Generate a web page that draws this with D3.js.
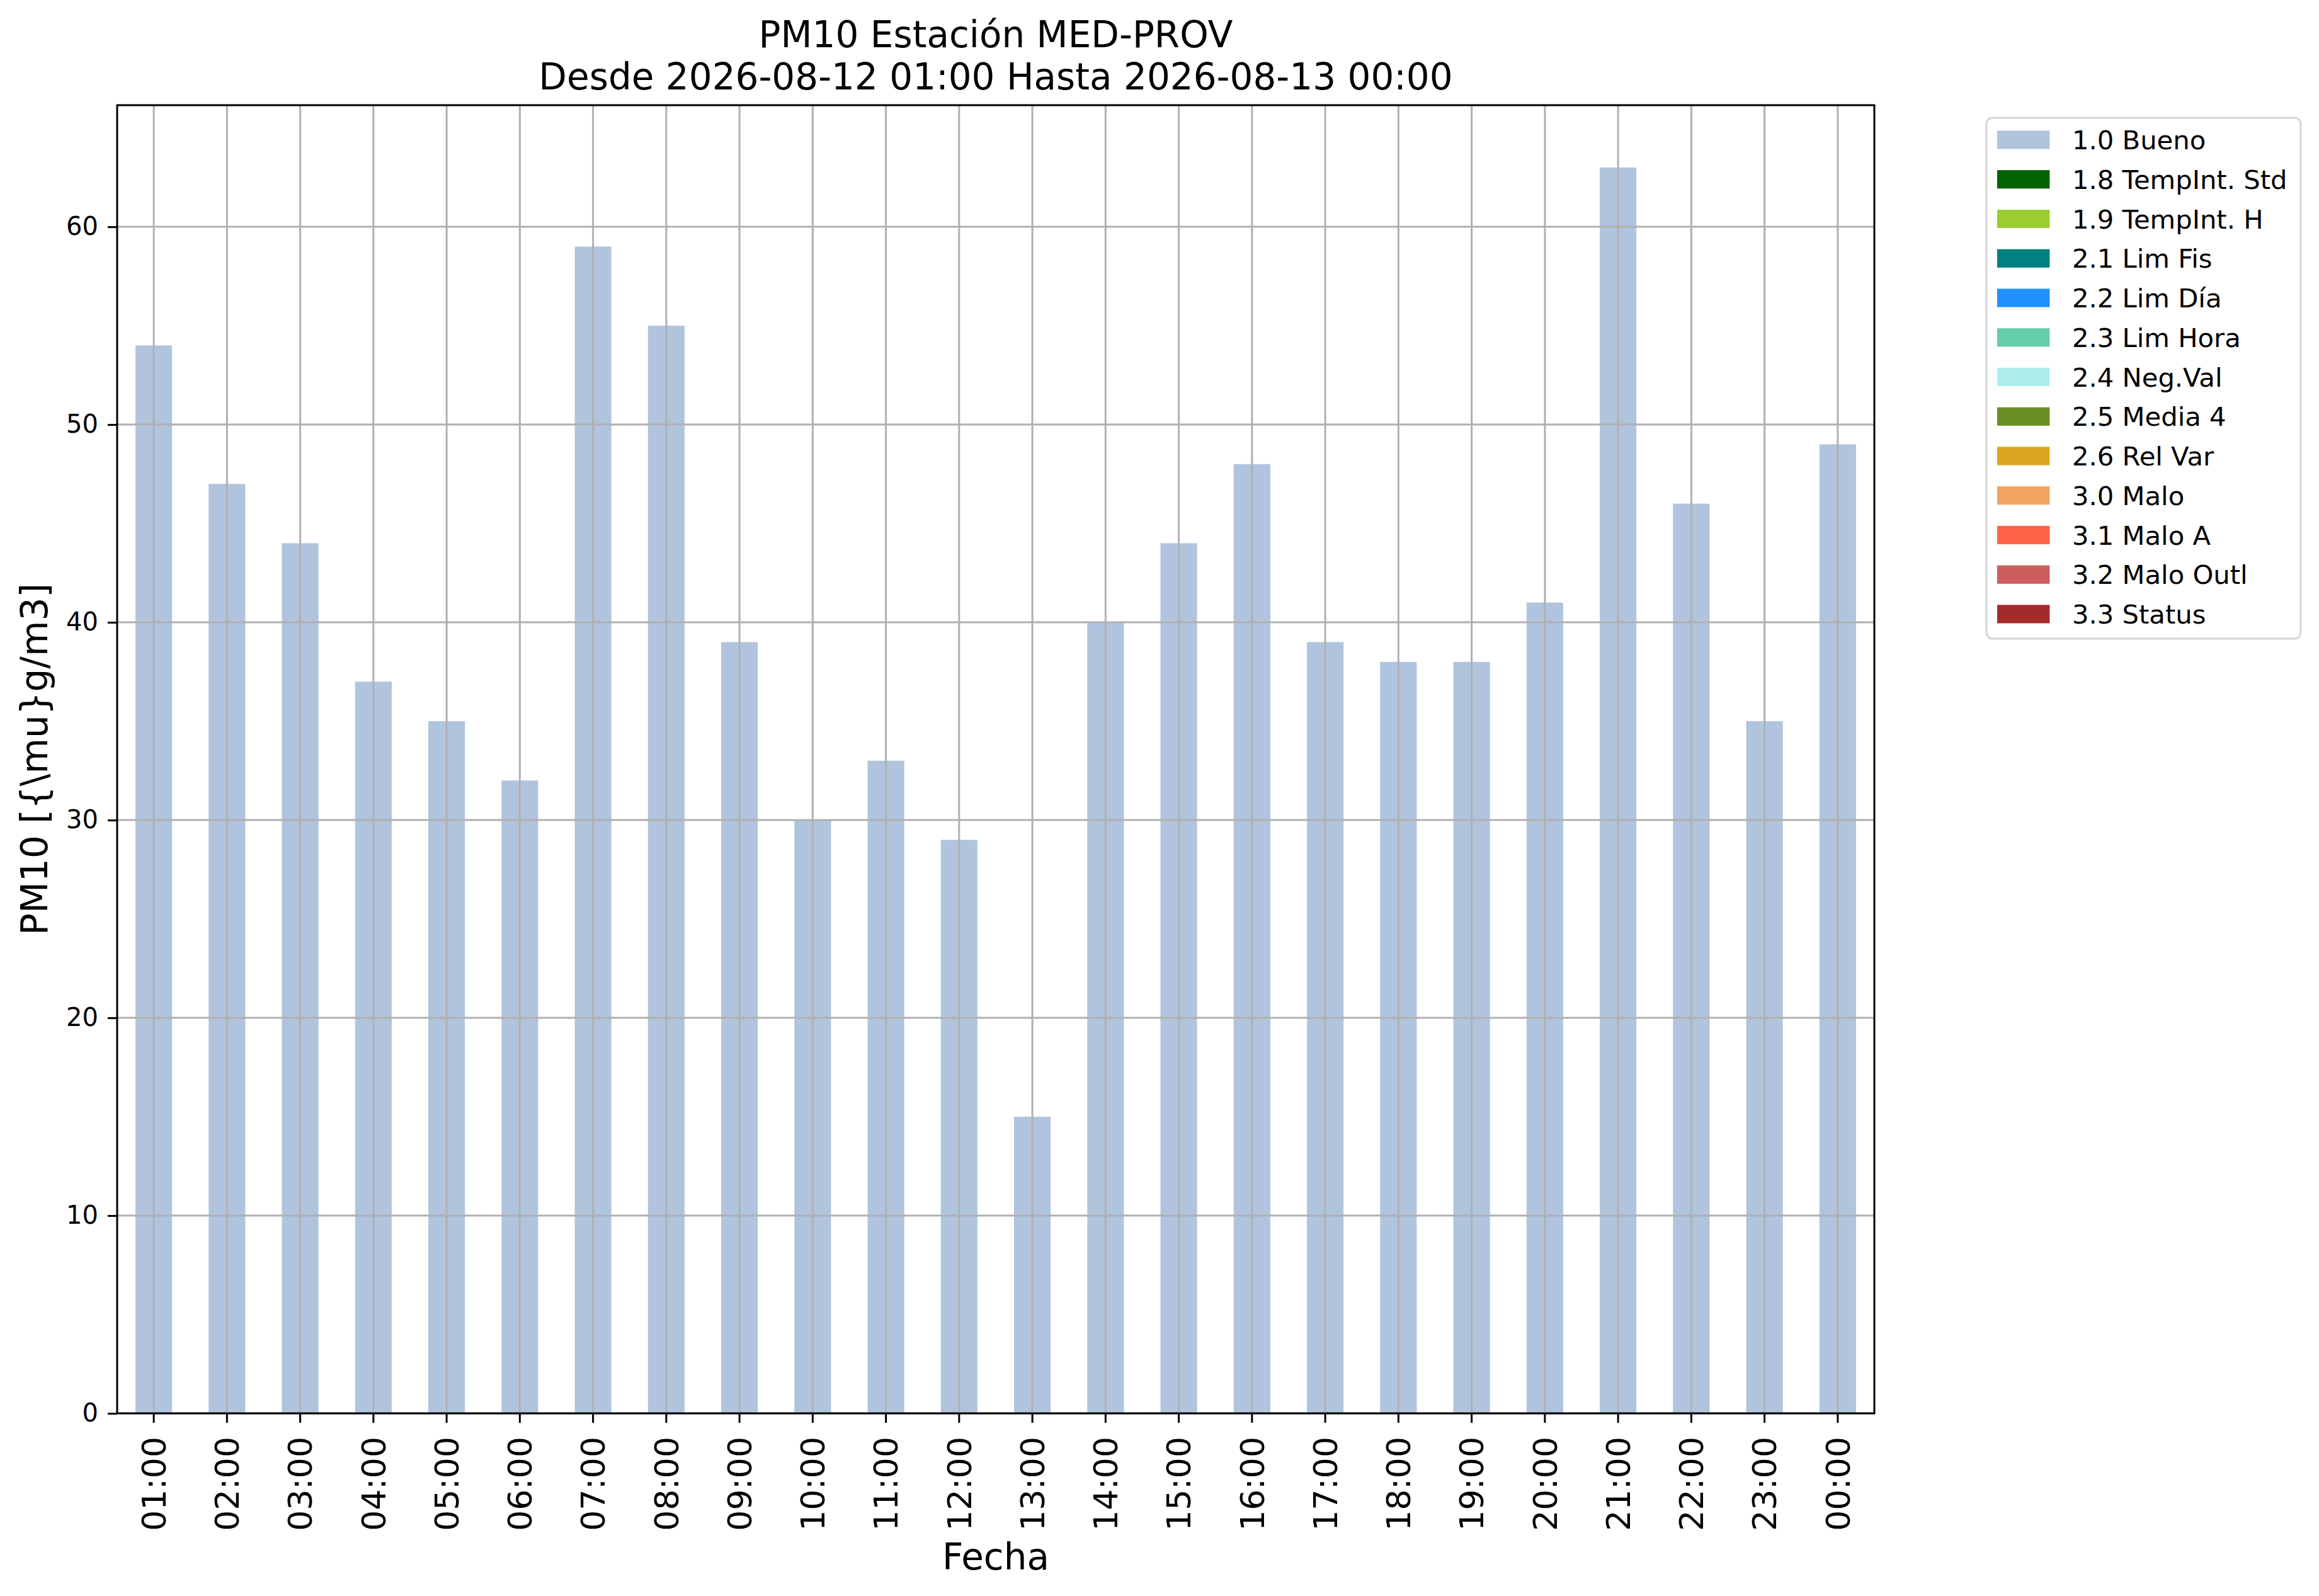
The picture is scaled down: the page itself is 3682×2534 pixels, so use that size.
<!DOCTYPE html>
<html>
<head>
<meta charset="utf-8">
<script src="https://cdn.jsdelivr.net/npm/d3@7"></script>
<style>
  body { margin: 0; background: #fff; }
  text { font-family: "DejaVu Sans", sans-serif; }
</style>
</head>
<body>
<svg id="chart" width="3682" height="2534"></svg>
<script>
// hourly labels for the x axis
const hours = ['01:00', '02:00', '03:00', '04:00', '05:00', '06:00', '07:00', '08:00',
    '09:00', '10:00', '11:00', '12:00', '13:00', '14:00', '15:00', '16:00',
    '17:00', '18:00', '19:00', '20:00', '21:00', '22:00', '23:00', '00:00'];
// PM10 values, all flagged 1.0 Bueno
const pm10Values = [54, 47, 44, 37, 35, 32, 59, 55, 39, 30, 33, 29, 15, 40,
    44, 48, 39, 38, 38, 41, 63, 46, 35, 49];
const yTicks = [0, 10, 20, 30, 40, 50, 60];
const legendLabels = ['1.0 Bueno', '1.8 TempInt. Std', '1.9 TempInt. H', '2.1 Lim Fis',
    '2.2 Lim Día', '2.3 Lim Hora', '2.4 Neg.Val', '2.5 Media 4', '2.6 Rel Var',
    '3.0 Malo', '3.1 Malo A', '3.2 Malo Outl', '3.3 Status'];
const legendColors = ['lightsteelblue', 'darkgreen', 'yellowgreen', 'teal', 'dodgerblue',
    'mediumaquamarine', 'paleturquoise', 'olivedrab', 'goldenrod', 'sandybrown',
    'tomato', 'indianred', 'brown'];
const titleLines = ['PM10 Estación MED-PROV', 'Desde 2026-08-12 01:00 Hasta 2026-08-13 00:00'];

const svg = d3.select('#chart');
const box = { left: 186, right: 2976, top: 167, bottom: 2244 };
const yMax = d3.max(pm10Values) * 1.05;

const x = d3.scaleBand()
    .domain(hours)
    .range([box.left, box.right])
    .paddingInner(0.5)
    .paddingOuter(0.25);
const y = d3.scaleLinear()
    .domain([0, yMax])
    .range([box.bottom, box.top]);

// bars
svg.append('g')
    .selectAll('rect')
    .data(pm10Values)
    .join('rect')
        .attr('x', (d, i) => x(hours[i]))
        .attr('y', d => y(d))
        .attr('width', x.bandwidth())
        .attr('height', d => y(0) - y(d))
        .attr('fill', legendColors[0]);

// grid sits above the bars, like matplotlib does
const grid = svg.append('g').attr('stroke', '#b0b0b0').attr('stroke-width', 3);
grid.selectAll('line.v').data(hours).join('line')
    .attr('class', 'v')
    .attr('x1', d => x(d) + x.bandwidth() / 2)
    .attr('x2', d => x(d) + x.bandwidth() / 2)
    .attr('y1', box.top)
    .attr('y2', box.bottom);
grid.selectAll('line.h').data(yTicks).join('line')
    .attr('class', 'h')
    .attr('x1', box.left)
    .attr('x2', box.right)
    .attr('y1', d => y(d))
    .attr('y2', d => y(d));

// axes
const yAxis = svg.append('g')
    .attr('transform', `translate(${box.left},0)`)
    .call(d3.axisLeft(y).tickValues(yTicks).tickSize(15).tickPadding(15).tickSizeOuter(0));
yAxis.select('.domain').remove();
yAxis.selectAll('.tick line').attr('stroke', '#000').attr('stroke-width', 3);
yAxis.selectAll('.tick text')
    .attr('font-size', 40)
    .attr('fill', '#000')
    .attr('font-family', 'DejaVu Sans');

const xAxis = svg.append('g')
    .attr('transform', `translate(0,${box.bottom})`)
    .call(d3.axisBottom(x).tickSize(15).tickSizeOuter(0));
xAxis.select('.domain').remove();
xAxis.selectAll('.tick line').attr('stroke', '#000').attr('stroke-width', 3);
xAxis.selectAll('.tick text')
    .attr('font-size', 52)
    .attr('fill', '#000')
    .attr('font-family', 'DejaVu Sans')
    .attr('text-anchor', 'end')
    .attr('transform', 'rotate(-90)')
    .attr('x', -37)
    .attr('y', 0)
    .attr('dy', '0.36em');

// frame
svg.append('rect')
    .attr('x', box.left)
    .attr('y', box.top)
    .attr('width', box.right - box.left)
    .attr('height', box.bottom - box.top)
    .attr('fill', 'none')
    .attr('stroke', '#000')
    .attr('stroke-width', 3);

// title and axis labels
const cx = (box.left + box.right) / 2;
svg.append('g').selectAll('text').data(titleLines).join('text')
    .attr('x', cx)
    .attr('y', (d, i) => 75 + i * 67)
    .attr('text-anchor', 'middle')
    .attr('font-size', 58)
    .text(d => d);

svg.append('text')
    .attr('x', cx)
    .attr('y', 2492)
    .attr('text-anchor', 'middle')
    .attr('font-size', 58)
    .text('Fecha');

svg.append('text')
    .attr('transform', `translate(75,${(box.top + box.bottom) / 2}) rotate(-90)`)
    .attr('text-anchor', 'middle')
    .attr('font-size', 58)
    .text('PM10 [{\\mu}g/m3]');

// legend
const legend = svg.append('g').attr('transform', 'translate(3154,187)');
legend.append('rect')
    .attr('width', 499)
    .attr('height', 827)
    .attr('rx', 10)
    .attr('fill', '#fff')
    .attr('stroke', '#d6d6d6')
    .attr('stroke-width', 3);
const entries = legend.selectAll('g.entry')
    .data(legendLabels)
    .join('g')
        .attr('class', 'entry')
        .attr('transform', (d, i) => `translate(17,${35 + i * 62.75})`);
entries.append('rect')
    .attr('x', 0)
    .attr('y', -14.6)
    .attr('width', 83.4)
    .attr('height', 29.2)
    .attr('fill', (d, i) => legendColors[i]);
entries.append('text')
    .attr('x', 119)
    .attr('y', 15)
    .attr('font-size', 41.7)
    .text(d => d);
</script>
</body>
</html>
